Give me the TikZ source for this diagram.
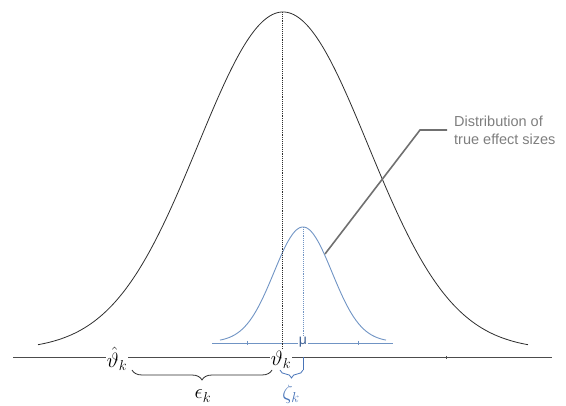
\documentclass[tikz,border=0pt]{standalone}
\usepackage{fontspec}
\setsansfont{Liberation Sans}
\usepackage{tikz}
\usetikzlibrary{decorations.pathreplacing,positioning}
\definecolor{BigC}{RGB}{45,45,45}
\definecolor{TrueC}{RGB}{112,148,196}
\definecolor{ZetaC}{RGB}{72,116,184}
\definecolor{CallC}{RGB}{112,112,112}
\tikzset{
  bigcurve/.style={BigC,line width=0.8pt},
  truecurve/.style={TrueC,line width=0.9pt},
  axisline/.style={BigC!85,line width=0.8pt},
  trueaxis/.style={TrueC,line width=0.9pt},
  peakline/.style={densely dotted,line width=0.9pt},
  lbl/.style={font=\fontsize{20.74}{24}\selectfont,inner sep=1pt},
  mulbl/.style={font=\sffamily\fontsize{14}{16}\selectfont,text=ZetaC!80!black,inner sep=1pt,fill=white},
  epsbrace/.style={decorate,decoration={brace,mirror,amplitude=10pt},BigC,line width=0.8pt},
  zetabrace/.style={decorate,decoration={brace,mirror,amplitude=8pt},ZetaC,line width=0.8pt},
  callout/.style={CallC,line width=1.6pt},
  calltext/.style={font=\sffamily\fontsize{14.5}{18}\selectfont,text=CallC!90,align=left,inner sep=0pt},
}

\begin{document}
\begin{tikzpicture}[x=1pt,y=-1pt]
  \useasboundingbox (0,0) rectangle (566,406);
  % the two distributions
  \draw[bigcurve] plot[domain=38:528,samples=160,smooth]
    (\x,{350-338*exp(-0.5*((\x-283)/85)^2)});
  \draw[truecurve] plot[domain=220:386,samples=100,smooth]
    (\x,{342-115*exp(-0.5*((\x-303)/29)^2)});
  \coordinate (bigtop) at (282,12);
  \coordinate (truetop) at (303,227);
  % axes
  \coordinate (axL) at (13,357);
  \coordinate (axR) at (552,357);
  \coordinate (tAxL) at (212,343);
  \coordinate (tAxR) at (393,343);
  \draw[axisline] (axL) -- (axR);
  \draw[axisline,line width=0.5pt] (446,356) -- (446,359);
  \draw[trueaxis] (tAxL) -- (tAxR);
  \draw[trueaxis,line width=0.5pt] (247,341) -- (247,345);
  \draw[trueaxis,line width=0.5pt] (358,341) -- (358,345);
  \node[lbl,fill=white] (thetahat) at (117,359) {$\hat{\vartheta}_k$};
  \node[lbl,fill=white] (theta) at (281,360) {$\vartheta_k$};
  \node[mulbl] (mu) at (303,342) {μ};
  \draw[peakline,BigC] (bigtop) -- (bigtop |- theta.north);
  \draw[peakline,TrueC] (truetop) -- (mu.north);
  % braces
  \coordinate (epsL) at (132,370);
  \coordinate (epsR) at (272,370);
  \draw[epsbrace] (epsL) -- (epsR);
  \node[lbl] (eps) at (203,396) {$\epsilon_k$};
  \coordinate (muAx) at (303,357);
  \coordinate (zetaR) at (303,370);
  \coordinate (zetaL) at (280,370);
  \draw[ZetaC,line width=0.8pt] (muAx) -- (zetaR);
  \draw[zetabrace] (zetaL) -- (zetaR);
  \node[lbl,text=ZetaC] (zeta) at (291,394) {$\zeta_k$};
  % callout
  \coordinate (callFoot) at (325,254);
  \coordinate (callKnee) at (420,130);
  \node[calltext,anchor=west] (callTxt) at (454,130) {Distribution of\\true effect sizes};
  \draw[callout] (callFoot) -- (callKnee) -- ([xshift=-7pt]callTxt.west);
\end{tikzpicture}
\end{document}
